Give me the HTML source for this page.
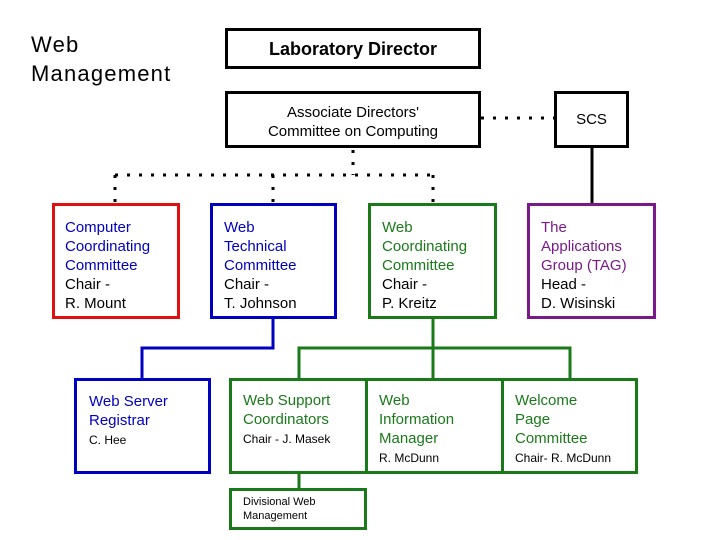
<!DOCTYPE html>
<html><head><style>
body{margin:0;width:720px;height:540px;background:#fff;position:relative;overflow:hidden;font-family:"Liberation Sans",Arial,sans-serif}
.b{position:absolute;box-sizing:border-box;border:3px solid #000;background:#fff}
.t{position:absolute;font-size:15px;line-height:19px}
.s{font-size:12px;line-height:15px;color:#000}
</style></head><body>
<svg width="720" height="540" style="position:absolute;left:0;top:0">
<g stroke="#000" stroke-width="3" stroke-dasharray="3 9" fill="none">
<line x1="481" y1="118" x2="555" y2="118"/>
<line x1="353" y1="150" x2="353" y2="175"/>
<line x1="115" y1="175" x2="433" y2="175"/>
<line x1="115" y1="175" x2="115" y2="202"/>
<line x1="273" y1="175" x2="273" y2="202"/>
<line x1="433" y1="175" x2="433" y2="202"/>
</g>
<line x1="592" y1="146" x2="592" y2="204" stroke="#000" stroke-width="3"/>
<polyline points="273,318 273,348 142,348 142,379" stroke="#0000c0" stroke-width="3" fill="none"/>
<g stroke="#1a7a1a" stroke-width="3" fill="none">
<line x1="433" y1="318" x2="433" y2="379"/>
<polyline points="299,379 299,348 570,348 570,379"/>
<line x1="299" y1="472" x2="299" y2="489"/>
</g>
</svg>
<div class="t" style="left:31px;top:30px;font-size:22px;line-height:29px;letter-spacing:1.2px">Web<br>Management</div>
<div class="b" style="left:225px;top:28px;width:256px;height:41px;text-align:center;font-size:18px;font-weight:bold;line-height:36px">Laboratory Director</div>
<div class="b" style="left:225px;top:91px;width:256px;height:57px;text-align:center;font-size:15px;line-height:19px;padding-top:9px">Associate Directors'<br>Committee on Computing</div>
<div class="b" style="left:554px;top:91px;width:75px;height:57px;text-align:center;font-size:15px;line-height:52px">SCS</div>
<div class="b" style="left:52px;top:203px;width:128px;height:116px;border-color:#e01010"><div class="t" style="left:10px;top:12px;color:#0000c0">Computer<br>Coordinating<br>Committee<br><span style="color:#000">Chair -<br>R. Mount</span></div></div>
<div class="b" style="left:210px;top:203px;width:127px;height:116px;border-color:#0000c0"><div class="t" style="left:11px;top:12px;color:#0000c0">Web<br>Technical<br>Committee<br><span style="color:#000">Chair -<br>T. Johnson</span></div></div>
<div class="b" style="left:368px;top:203px;width:129px;height:116px;border-color:#1a7a1a"><div class="t" style="left:11px;top:12px;color:#1a7a1a">Web<br>Coordinating<br>Committee<br><span style="color:#000">Chair -<br>P. Kreitz</span></div></div>
<div class="b" style="left:527px;top:203px;width:129px;height:116px;border-color:#7a1a8a"><div class="t" style="left:11px;top:12px;color:#7a1a8a">The<br>Applications<br>Group (TAG)<br><span style="color:#000">Head -<br>D. Wisinski</span></div></div>
<div class="b" style="left:74px;top:378px;width:137px;height:96px;border-color:#0000c0"><div class="t" style="left:12px;top:11px;color:#0000c0">Web Server<br>Registrar<br><span class="s">C. Hee</span></div></div>
<div class="b" style="left:229px;top:378px;width:139px;height:96px;border-color:#1a7a1a"><div class="t" style="left:11px;top:10px;color:#1a7a1a">Web Support<br>Coordinators<br><span class="s">Chair - J. Masek</span></div></div>
<div class="b" style="left:365px;top:378px;width:139px;height:96px;border-color:#1a7a1a"><div class="t" style="left:11px;top:10px;color:#1a7a1a">Web<br>Information<br>Manager<br><span class="s">R. McDunn</span></div></div>
<div class="b" style="left:501px;top:378px;width:137px;height:96px;border-color:#1a7a1a"><div class="t" style="left:11px;top:10px;color:#1a7a1a">Welcome<br>Page<br>Committee<br><span class="s">Chair- R. McDunn</span></div></div>
<div class="b" style="left:229px;top:488px;width:138px;height:42px;border-color:#1a7a1a"><div class="t s" style="left:11px;top:4px;font-size:11px;line-height:14px">Divisional Web<br>Management</div></div>
</body></html>
